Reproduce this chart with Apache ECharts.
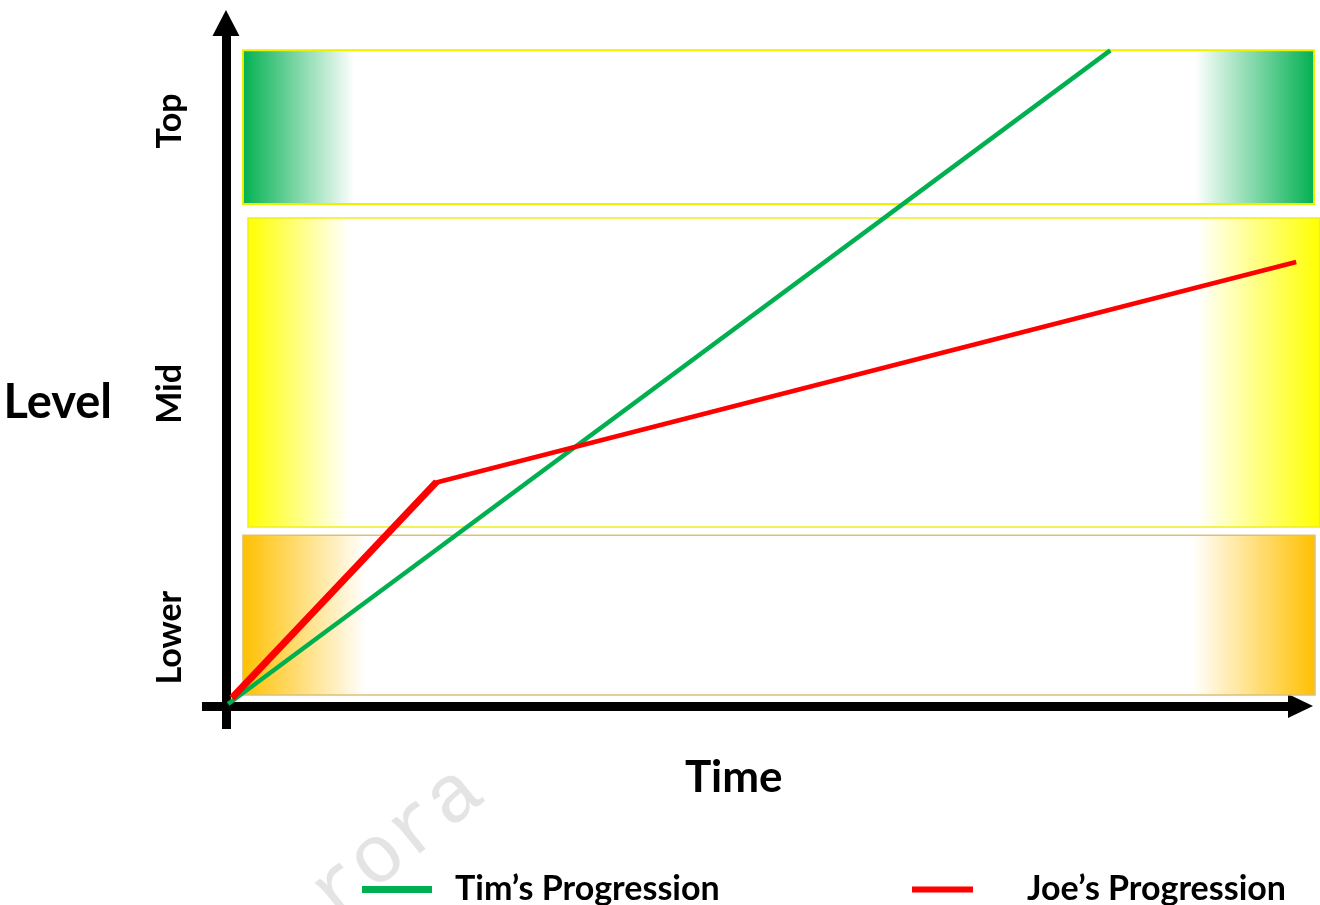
<!DOCTYPE html>
<html>
<head>
<meta charset="utf-8">
<title>Progression over time</title>
<script src="https://cdn.jsdelivr.net/npm/echarts@6/dist/echarts.min.js"></script>
<style>
  html, body { margin: 0; padding: 0; background: #ffffff; }
  #chart { width: 1320px; height: 905px; }
</style>
</head>
<body>
<div id="chart"></div>
<script>
// Level bands (in level units) and their names
const bandNames = ['Lower', 'Mid', 'Top'];
const bandStart = [1.58, 2.05, 1.58];     // time where each band begins
const bandEnd = [101.35, 101.8, 101.26];  // time where each band ends
const bandLow = [1.6, 26.2, 73.5];
const bandHigh = [25.0, 71.45, 96.0];

// Tick labels on the level axis
const levelLabels = ['Lower', 'Mid', 'Top'];
const levelLabelValues = [10.0, 45.7, 85.65];

// Progressions: [time, level]
const timPoints = [[0.2, 0.3], [82.3, 96.0]];
const joeEarly = [[0.56, 1.17], [19.6, 32.8]];
const joeLater = [[19.4, 32.65], [99.6, 65.0]];

const TIM = 'Tim\u2019s Progression';
const JOE = 'Joe\u2019s Progression';

const bandColors = ['#ffc000', '#ffff00', '#00b050'];
const bandBorders = ['#dcc07a', '#eeee20', '#eeee00'];
const bandStops = [
  [0, 0.115, 0.885, 1],
  [0, 0.095, 0.885, 1],
  [0, 0.105, 0.888, 1]
];

const FONT = 'Lato';

const chart = echarts.init(document.getElementById('chart'), null, { renderer: 'canvas' });

function bandGradient(i) {
  const c = bandColors[i], s = bandStops[i];
  return new echarts.graphic.LinearGradient(0, 0, 1, 0, [
    { offset: s[0], color: c },
    { offset: s[1], color: 'rgba(255,255,255,1)' },
    { offset: s[2], color: 'rgba(255,255,255,1)' },
    { offset: s[3], color: c }
  ]);
}

const bandData = bandNames.map((n, i) => [bandStart[i], bandEnd[i], bandLow[i], bandHigh[i], i]);

const option = {
  backgroundColor: '#ffffff',
  animation: false,
  grid: {
    left: 202, right: 19.5, top: 23, bottom: 176,
    containLabel: false, outerBoundsMode: 'none'
  },
  xAxis: {
    type: 'value',
    min: -2.23, max: 100,
    name: 'Time',
    nameLocation: 'middle',
    nameGap: 27,
    nameMoveOverlap: false,
    nameTextStyle: {
      fontFamily: FONT, fontWeight: 'bold', fontSize: 44, color: '#000',
      padding: [0, 35, 0, 0]
    },
    axisLine: {
      onZero: true,
      symbol: ['none', 'triangle'],
      symbolSize: [24, 25],
      lineStyle: { color: '#000', width: 9, cap: 'butt' }
    },
    axisTick: { show: false },
    axisLabel: { show: false },
    splitLine: { show: false }
  },
  yAxis: {
    type: 'value',
    min: -3.37, max: 100,
    name: 'Level',
    nameLocation: 'middle',
    nameRotate: 0,
    nameGap: 90,
    nameMoveOverlap: false,
    nameTextStyle: {
      fontFamily: FONT, fontWeight: 'bold', fontSize: 47, color: '#000',
      verticalAlign: 'top', lineHeight: 54
    },
    axisLine: {
      onZero: true,
      symbol: ['none', 'triangle'],
      symbolSize: [27, 26],
      lineStyle: { color: '#000', width: 9, cap: 'butt' }
    },
    axisTick: { show: false },
    axisLabel: {
      show: true,
      customValues: levelLabelValues,
      rotate: 90,
      margin: 15,
      fontFamily: FONT, fontWeight: 'bold', fontSize: 34, color: '#000',
      formatter: function (v) {
        const i = levelLabelValues.indexOf(v);
        return i >= 0 ? levelLabels[i] : '';
      }
    },
    splitLine: { show: false }
  },
  legend: [
    {
      data: [TIM],
      left: 362, top: 871.5,
      padding: 0,
      icon: 'rect',
      itemWidth: 70, itemHeight: 7,
      selectedMode: false,
      textStyle: {
        fontFamily: FONT, fontWeight: 'bold', fontSize: 34, color: '#000',
        lineHeight: 36, padding: [0, 0, 0, 18]
      }
    },
    {
      data: [JOE],
      left: 912, top: 871.5,
      padding: 0,
      icon: 'rect',
      itemWidth: 61, itemHeight: 6,
      selectedMode: false,
      textStyle: {
        fontFamily: FONT, fontWeight: 'bold', fontSize: 34, color: '#000',
        lineHeight: 36, padding: [0, 0, 0, 49]
      }
    }
  ],
  graphic: [
    {
      type: 'text',
      x: 473.6, y: 782,
      rotation: 0.68,
      z: 0,
      silent: true,
      style: {
        text: 'rora',
        font: '82px "Liberation Mono"',
        fill: '#e4e4e4',
        align: 'right', verticalAlign: 'middle',
        textAlign: 'right', textVerticalAlign: 'middle'
      }
    }
  ],
  series: [
    {
      type: 'custom',
      name: 'bands',
      silent: true,
      clip: false,
      z: 1,
      data: bandData,
      encode: { x: [0, 1], y: [2, 3] },
      renderItem: function (params, api) {
        const p0 = api.coord([api.value(0), api.value(3)]);
        const p1 = api.coord([api.value(1), api.value(2)]);
        const i = api.value(4);
        return {
          type: 'rect',
          shape: { x: p0[0], y: p0[1], width: p1[0] - p0[0], height: p1[1] - p0[1] },
          style: {
            fill: bandGradient(i),
            stroke: bandBorders[i],
            lineWidth: i === 2 ? 2 : 1.5
          }
        };
      }
    },
    {
      type: 'line',
      name: TIM,
      data: timPoints,
      symbol: 'none',
      z: 3,
      color: '#00b050',
      lineStyle: { color: '#00b050', width: 4.5, cap: 'butt' }
    },
    {
      type: 'line',
      name: JOE,
      data: joeEarly,
      symbol: 'none',
      z: 4,
      color: '#ff0000',
      lineStyle: { color: '#ff0000', width: 7, cap: 'butt' }
    },
    {
      type: 'line',
      name: JOE,
      data: joeLater,
      symbol: 'none',
      z: 4,
      color: '#ff0000',
      lineStyle: { color: '#ff0000', width: 4.5, cap: 'butt' }
    }
  ]
};

chart.setOption(option);
</script>
</body>
</html>
